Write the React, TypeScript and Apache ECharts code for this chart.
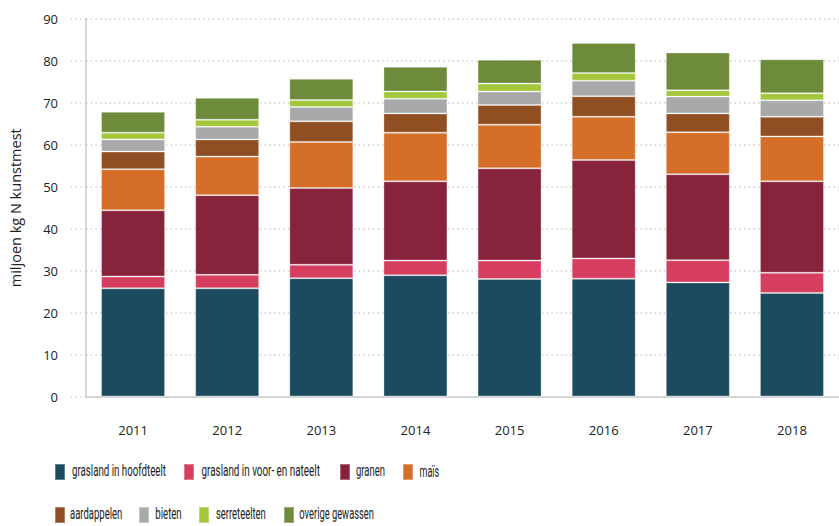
import React, { useEffect, useRef } from "react";
import * as echarts from "echarts";

const years = ["2011", "2012", "2013", "2014", "2015", "2016", "2017", "2018"];
const hoofdteelt = [25.8, 25.8, 28.2, 28.9, 28.0, 28.1, 27.2, 24.7];
const voorNateelt = [2.8, 3.2, 3.2, 3.5, 4.4, 4.8, 5.3, 4.8];
const granen = [15.8, 19.0, 18.3, 18.9, 22.0, 23.5, 20.5, 21.8];
const mais = [9.8, 9.2, 11.0, 11.6, 10.4, 10.3, 10.0, 10.7];
const aardappelen = [4.2, 4.1, 4.9, 4.6, 4.7, 4.9, 4.5, 4.7];
const bieten = [2.9, 3.0, 3.4, 3.5, 3.2, 3.7, 4.0, 3.9];
const serreteelten = [1.6, 1.7, 1.7, 1.7, 1.9, 1.8, 1.5, 1.7];
const overige = [5.0, 5.2, 5.05, 5.9, 5.7, 7.2, 9.0, 8.1];

const seriesNames = [
  "grasland in hoofdteelt",
  "grasland in voor- en nateelt",
  "granen",
  "maïs",
  "aardappelen",
  "bieten",
  "serreteelten",
  "overige gewassen",
];
const seriesData = [hoofdteelt, voorNateelt, granen, mais, aardappelen, bieten, serreteelten, overige];
const colors = ["#1c4a5e", "#d63e60", "#87243b", "#d46e29", "#8f4f22", "#a9a9ac", "#a3c63b", "#6d8b3b"];

// legend layout: icon left/top, text start x, target text width
const legendLayout = [
  { left: 54, top: 463, tx: 72, w: 94 },
  { left: 183, top: 463, tx: 201.5, w: 118.5 },
  { left: 339, top: 463, tx: 356, w: 29 },
  { left: 402, top: 463, tx: 419.5, w: 19.7 },
  { left: 54, top: 506, tx: 70, w: 52.3 },
  { left: 138, top: 506, tx: 155.3, w: 26.4 },
  { left: 198, top: 506, tx: 216, w: 49.7 },
  { left: 283, top: 506, tx: 299.3, w: 74.7 },
];

const axisFont = "'Open Sans', 'Noto Sans', sans-serif";
const legendFontSize = 16;
const legendFontFamily = "Roboto, 'Open Sans', sans-serif";

export default function App() {
  const ref = useRef<HTMLDivElement>(null);
  useEffect(() => {
    if (!ref.current) return;
    const chart = echarts.init(ref.current, null, { renderer: "svg" });
    const ctx = document.createElement("canvas").getContext("2d");
    const font = `${legendFontSize}px ${legendFontFamily}`;
    if (ctx) ctx.font = font;
    const dotted = { color: "#cfcfcf", width: 1.5, type: [1.5, 3.2] as any };
    chart.setOption({
      animation: false,
      color: colors,
      grid: { left: 86, right: -9, top: 19, bottom: 129.5 },
      legend: seriesNames.map((n, i) => ({
        data: [n],
        left: legendLayout[i].left,
        top: legendLayout[i].top,
        padding: 0,
        itemWidth: 10,
        itemHeight: 16,
        icon: "rect",
        selectedMode: false,
        formatter: () => "",
      })),
      graphic: seriesNames.map((n, i) => {
        const L = legendLayout[i];
        const measured = ctx ? ctx.measureText(n).width : L.w;
        return {
          type: "text",
          x: L.tx,
          y: L.top + 8,
          scaleX: measured > 0 ? L.w / measured : 1,
          silent: true,
          style: {
            text: n,
            font,
            fill: "#222",
            textAlign: "left",
            textVerticalAlign: "middle",
          },
        };
      }),
      xAxis: {
        type: "category",
        data: years,
        axisLine: { lineStyle: { color: "#cccccc", width: 1.5 } },
        axisTick: { show: false },
        axisLabel: { fontFamily: axisFont, fontSize: 13, color: "#222", margin: 27 },
      },
      yAxis: {
        type: "value",
        min: 0,
        max: 90,
        interval: 10,
        name: "miljoen kg N kunstmest",
        nameLocation: "middle",
        nameGap: 63,
        nameTextStyle: { fontFamily: axisFont, fontSize: 14.5, color: "#222" },
        axisLine: { show: true, lineStyle: { color: "#cccccc", width: 1.5 } },
        axisTick: { show: true, length: 15, lineStyle: dotted },
        splitLine: { show: true, lineStyle: dotted },
        axisLabel: { fontFamily: axisFont, fontSize: 13, color: "#222", margin: 28 },
      },
      series: seriesNames.map((n, i) => ({
        name: n,
        type: "bar",
        stack: "total",
        barWidth: 64,
        data: seriesData[i],
        itemStyle: { color: colors[i], borderColor: "rgba(255,255,255,0.3)", borderWidth: 1 },
      })),
    });
    return () => chart.dispose();
  }, []);
  return (
    <div
      ref={ref}
      style={{ position: "fixed", left: 0, top: 0, width: 839, height: 526, background: "#fff" }}
    />
  );
}
